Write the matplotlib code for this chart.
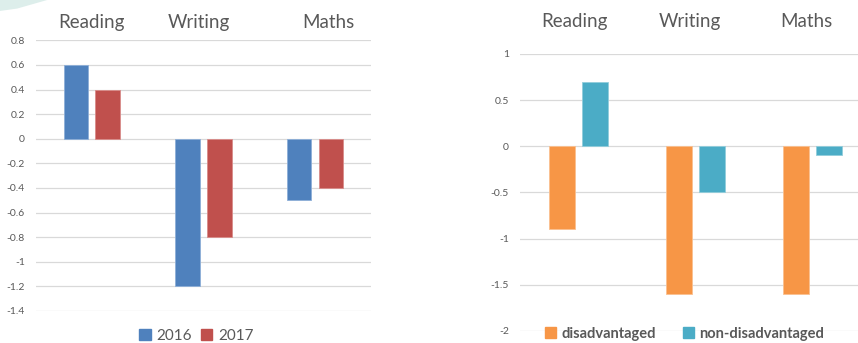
import numpy as np
import matplotlib
matplotlib.use("Agg")
import matplotlib.pyplot as plt
import matplotlib.transforms as mtransforms
from matplotlib.patches import Patch, Polygon

# data
subjects = ["Reading", "Writing", "Maths"]
years = ["2016", "2017"]
year_2016 = [0.6, -1.2, -0.5]
year_2017 = [0.4, -0.8, -0.4]

groups = ["disadvantaged", "non-disadvantaged"]
disadvantaged = [-0.9, -1.6, -1.6]
non_disadvantaged = [0.7, -0.5, -0.1]

left_ticks = [0.8, 0.6, 0.4, 0.2, 0, -0.2, -0.4, -0.6, -0.8, -1, -1.2, -1.4]
right_ticks = [1, 0.5, 0, -0.5, -1, -1.5, -2]

plt.rcParams['font.family'] = ['Lato', 'DejaVu Sans']

BLUE = '#4F81BD'
RED = '#C0504D'
ORANGE = '#F79646'
TEAL = '#4BACC6'
GRID = '#D9D9D9'
TXT = '#595959'

fig = plt.figure(figsize=(8.58, 3.43), dpi=100)
ax1 = fig.add_axes([0.042, 0.0933, 0.390, 0.789])
ax2 = fig.add_axes([0.606, 0.035, 0.409, 0.808])

# faint slide decoration in the top-left corner
fig.patches.append(Polygon([(0, 1), (0.055, 1), (0.02, 0.975), (0, 0.968)],
                           closed=True, transform=fig.transFigure,
                           facecolor='#D5EAE6', edgecolor='none', alpha=0.8))


def fmt(v):
    return f"{v:g}"


def style_axis(ax, ticks, ylim):
    ax.set_ylim(*ylim)
    ax.set_xlim(-0.5, len(subjects) - 0.5)
    ax.set_yticks(ticks)
    ax.set_yticklabels([fmt(t) for t in ticks], color=TXT, fontsize=7.5)
    ax.tick_params(axis='y', length=0, pad=8)
    ax.set_xticks([])
    for s in ax.spines.values():
        s.set_visible(False)
    ax.yaxis.grid(True, color=GRID, linewidth=0.9)
    ax.set_axisbelow(True)


x = np.arange(len(subjects))
w = 0.22
off = 0.143

style_axis(ax1, left_ticks, (-1.4, 0.8))
ax1.bar(x - off, year_2016, w, color=BLUE, edgecolor='#8EAFD8', linewidth=0.6)
ax1.bar(x + off, year_2017, w, color=RED, edgecolor='#D98C8A', linewidth=0.6)

style_axis(ax2, right_ticks, (-2, 1))
ax2.bar(x - off, disadvantaged, w, color=ORANGE, edgecolor='#FAC08F', linewidth=0.6)
ax2.bar(x + off, non_disadvantaged, w, color=TEAL, edgecolor='#92CDDC', linewidth=0.6)

# subject names across the top
shift1 = [0.0, -0.04, 0.12]
shift2 = [-0.03, -0.05, -0.05]
tr1 = mtransforms.blended_transform_factory(ax1.transData, fig.transFigure)
tr2 = mtransforms.blended_transform_factory(ax2.transData, fig.transFigure)
for i, name in enumerate(subjects):
    ax1.text(i + shift1[i], 0.933, name, transform=tr1, ha='center', va='center',
             fontsize=13.5, color=TXT, clip_on=False)
    ax2.text(i + shift2[i], 0.936, name, transform=tr2, ha='center', va='center',
             fontsize=13.5, color=TXT, clip_on=False)

# legends
h1 = [Patch(color=BLUE), Patch(color=RED)]
fig.legend(h1, years, loc='center', bbox_to_anchor=(0.229, 0.02), ncol=2,
           frameon=False, fontsize=11, handlelength=0.75, handleheight=0.75,
           handletextpad=0.4, columnspacing=0.55, labelcolor=TXT, borderpad=0)
h2 = [Patch(color=ORANGE), Patch(color=TEAL)]
fig.legend(h2, groups, loc='center', bbox_to_anchor=(0.798, 0.027), ncol=2,
           frameon=False, prop={'size': 10.5, 'weight': 'bold'}, handlelength=0.75,
           handleheight=0.75, handletextpad=0.4, columnspacing=1.8,
           labelcolor=TXT, borderpad=0)

fig.savefig('out.png', dpi=100)
